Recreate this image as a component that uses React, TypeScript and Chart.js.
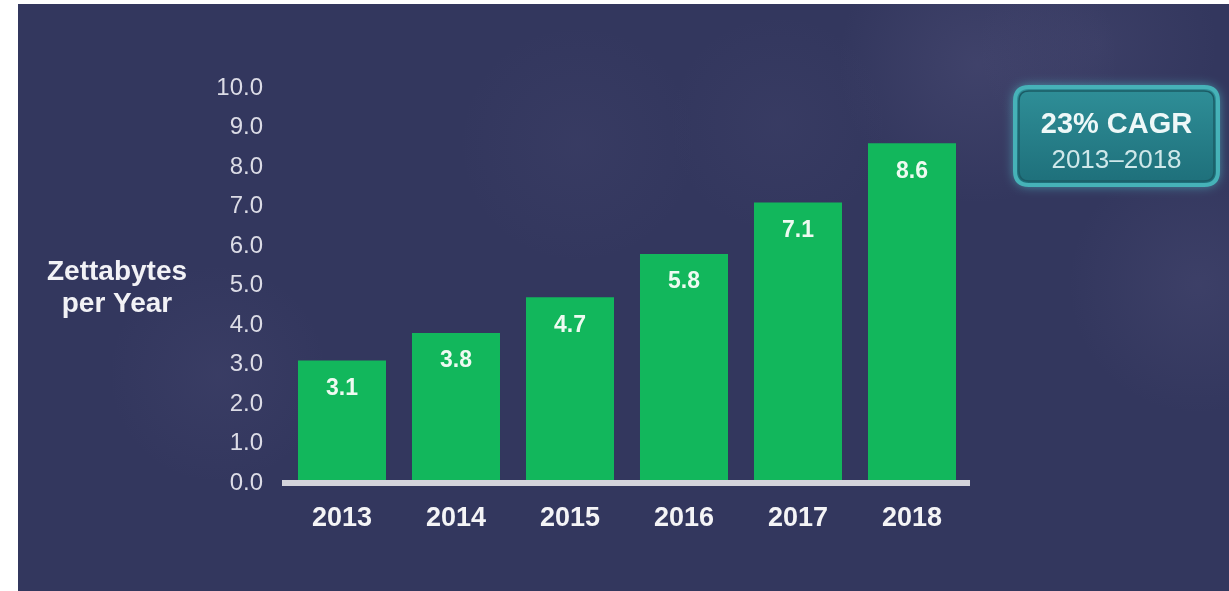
import React, { useEffect, useRef } from "react";
import { Chart, registerables } from "chart.js";

Chart.register(...registerables);

const years = ["2013", "2014", "2015", "2016", "2017", "2018"];
const zettabytes = [3.1, 3.8, 4.7, 5.8, 7.1, 8.6];
const axisTitleLines = ["Zettabytes", "per Year"];
const cagrTitle = "23% CAGR";
const cagrPeriod = "2013–2018";

const FONT = '"Liberation Sans", Arial, sans-serif';

function roundRect(ctx: CanvasRenderingContext2D, x: number, y: number, w: number, h: number, r: number) {
  ctx.beginPath();
  ctx.moveTo(x + r, y);
  ctx.lineTo(x + w - r, y);
  ctx.quadraticCurveTo(x + w, y, x + w, y + r);
  ctx.lineTo(x + w, y + h - r);
  ctx.quadraticCurveTo(x + w, y + h, x + w - r, y + h);
  ctx.lineTo(x + r, y + h);
  ctx.quadraticCurveTo(x, y + h, x, y + h - r);
  ctx.lineTo(x, y + r);
  ctx.quadraticCurveTo(x, y, x + r, y);
  ctx.closePath();
}

const backgroundPlugin = {
  id: "bgClouds",
  beforeDraw(chart: any) {
    const { ctx, width, height } = chart;
    ctx.save();
    ctx.fillStyle = "#33375e";
    ctx.fillRect(0, 0, width, height);
    const blobs = [
      [960, 60, 140, 0.16],
      [1080, 40, 120, 0.1],
      [1180, 280, 130, 0.12],
      [200, 370, 110, 0.08],
      [560, 140, 120, 0.06],
      [760, 120, 110, 0.06],
    ];
    for (const [x, y, r, a] of blobs) {
      const g = ctx.createRadialGradient(x, y, 0, x, y, r);
      g.addColorStop(0, `rgba(130,125,170,${a})`);
      g.addColorStop(1, "rgba(130,125,170,0)");
      ctx.fillStyle = g;
      ctx.fillRect(x - r, y - r, r * 2, r * 2);
    }
    ctx.restore();
  },
};

const decorPlugin = {
  id: "decor",
  afterDraw(chart: any) {
    const { ctx, chartArea } = chart;
    ctx.save();
    // axis title
    ctx.fillStyle = "#f2f2f6";
    ctx.font = `bold 28px ${FONT}`;
    ctx.textAlign = "center";
    ctx.textBaseline = "alphabetic";
    const tx = chartArea.left - 168;
    ctx.fillText(axisTitleLines[0], tx, 276);
    ctx.fillText(axisTitleLines[1], tx, 308);

    // data labels
    const meta = chart.getDatasetMeta(0);
    ctx.font = `bold 23px ${FONT}`;
    ctx.fillStyle = "#eefaf1";
    ctx.textBaseline = "middle";
    meta.data.forEach((el: any, i: number) => {
      ctx.fillText(zettabytes[i].toFixed(1), el.x, el.y + 28);
    });

    // CAGR box
    const bx = 997, by = 83, bw = 203, bh = 98;
    ctx.save();
    ctx.shadowColor = "rgba(90,220,225,0.7)";
    ctx.shadowBlur = 12;
    roundRect(ctx, bx, by, bw, bh, 14);
    const g = ctx.createLinearGradient(0, by, 0, by + bh);
    g.addColorStop(0, "#2f8f98");
    g.addColorStop(1, "#1e6f7a");
    ctx.fillStyle = g;
    ctx.fill();
    ctx.restore();
    ctx.lineWidth = 4;
    ctx.strokeStyle = "#46b2b8";
    roundRect(ctx, bx, by, bw, bh, 14);
    ctx.stroke();
    ctx.lineWidth = 1.5;
    ctx.strokeStyle = "#1b5c66";
    roundRect(ctx, bx + 4, by + 4, bw - 8, bh - 8, 10);
    ctx.stroke();
    ctx.fillStyle = "#eef8f8";
    ctx.font = `bold 29px ${FONT}`;
    ctx.textBaseline = "alphabetic";
    ctx.fillText(cagrTitle, bx + bw / 2, 129);
    ctx.fillStyle = "#cfe8ea";
    ctx.font = `26px ${FONT}`;
    ctx.fillText(cagrPeriod, bx + bw / 2, 164);
    ctx.restore();
  },
};

export default function App() {
  const ref = useRef<HTMLCanvasElement>(null);
  useEffect(() => {
    if (!ref.current) return;
    const chart = new Chart(ref.current, {
      type: "bar",
      data: {
        labels: years,
        datasets: [
          {
            data: zettabytes,
            backgroundColor: "#12b75c",
            borderWidth: 0,
            categoryPercentage: 1,
            barPercentage: 0.772,
          },
        ],
      },
      options: {
        animation: false,
        responsive: true,
        maintainAspectRatio: false,
        layout: { padding: { left: 0, right: 260, top: 84, bottom: 0 } },
        plugins: { legend: { display: false }, tooltip: { enabled: false }, title: { display: false } },
        scales: {
          x: {
            grid: { display: false, drawTicks: false },
            border: { display: true, color: "#d4d4dc", width: 6, z: 1 },
            ticks: {
              color: "#f4f4f6",
              font: { family: FONT, size: 27, weight: "bold" },
              padding: 19,
              maxRotation: 0,
            },
            afterFit: (s: any) => {
              s.height = 108;
            },
          },
          y: {
            min: 0,
            max: 10,
            grid: { display: false, drawTicks: false },
            border: { display: false },
            ticks: {
              stepSize: 1,
              color: "#dcdce6",
              font: { family: FONT, size: 24 },
              padding: 22,
              callback: (v: any) => Number(v).toFixed(1),
            },
            afterFit: (s: any) => {
              s.width = 267;
            },
          },
        },
      },
      plugins: [backgroundPlugin, decorPlugin],
    });
    return () => chart.destroy();
  }, []);
  return (
    <div
      style={{
        position: "absolute",
        left: 18,
        top: 4,
        width: 1211,
        height: 587,
        background: "#33375e",
      }}
    >
      <canvas ref={ref} />
    </div>
  );
}
